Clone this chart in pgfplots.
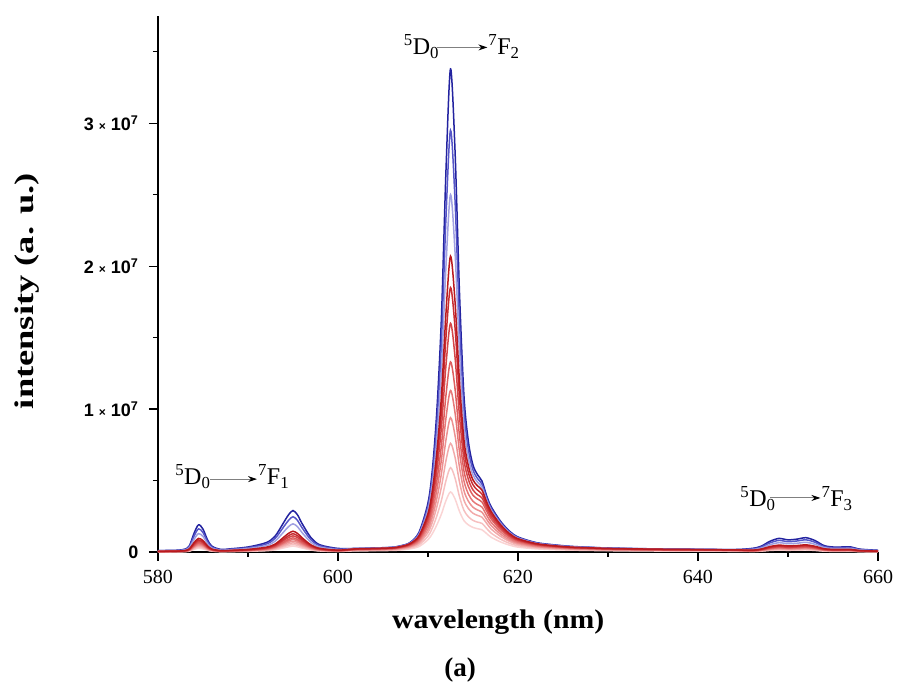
\documentclass[border=0pt]{standalone}
\usepackage{pgfplots}
\pgfplotsset{compat=1.18}
\usepackage{pgfplotstable}
\usepackage{fontspec}
\setmainfont{Liberation Serif}
\newfontfamily\arialfont{Liberation Sans}
\usetikzlibrary{arrows.meta}
\definecolor{k1}{RGB}{35,35,160}
\definecolor{k2}{RGB}{85,85,200}
\definecolor{k3}{RGB}{160,160,225}
\definecolor{k4}{RGB}{185,25,30}
\definecolor{k5}{RGB}{200,45,50}
\definecolor{k6}{RGB}{212,70,72}
\definecolor{k7}{RGB}{222,95,95}
\definecolor{k8}{RGB}{230,120,120}
\definecolor{k9}{RGB}{236,145,145}
\definecolor{k10}{RGB}{242,170,170}
\definecolor{k11}{RGB}{246,192,192}
\definecolor{k12}{RGB}{250,212,212}
% intensities in units of 10^7
\pgfplotstableread{
x c1 c2 c3 c4 c5 c6 c7 c8 c9 c10 c11 c12
580 0.010 0.009 0.007 0.005 0.004 0.004 0.003 0.003 0.003 0.002 0.002 0.001
582 0.012 0.010 0.008 0.006 0.005 0.005 0.004 0.004 0.003 0.003 0.002 0.002
583 0.020 0.017 0.014 0.010 0.009 0.008 0.007 0.006 0.005 0.004 0.004 0.003
583.5 0.045 0.038 0.031 0.023 0.020 0.018 0.015 0.014 0.012 0.010 0.008 0.006
584 0.130 0.111 0.088 0.065 0.057 0.051 0.044 0.039 0.034 0.029 0.023 0.018
584.5 0.190 0.162 0.129 0.095 0.084 0.074 0.065 0.057 0.049 0.042 0.034 0.027
585 0.160 0.136 0.109 0.080 0.070 0.062 0.054 0.048 0.042 0.035 0.029 0.022
585.5 0.085 0.072 0.058 0.043 0.037 0.033 0.029 0.026 0.022 0.019 0.015 0.012
586 0.040 0.034 0.027 0.020 0.018 0.016 0.014 0.012 0.010 0.009 0.007 0.006
587 0.018 0.015 0.012 0.009 0.008 0.007 0.006 0.005 0.005 0.004 0.003 0.003
588 0.022 0.019 0.015 0.011 0.010 0.009 0.007 0.007 0.006 0.005 0.004 0.003
590 0.035 0.030 0.024 0.018 0.015 0.014 0.012 0.011 0.009 0.008 0.006 0.005
592 0.065 0.055 0.044 0.033 0.029 0.025 0.022 0.020 0.017 0.014 0.012 0.009
593 0.110 0.094 0.075 0.055 0.048 0.043 0.037 0.033 0.029 0.024 0.020 0.015
594 0.210 0.179 0.143 0.105 0.092 0.082 0.071 0.063 0.055 0.046 0.038 0.029
594.5 0.260 0.221 0.177 0.130 0.114 0.101 0.088 0.078 0.068 0.057 0.047 0.036
595 0.290 0.247 0.197 0.145 0.128 0.113 0.099 0.087 0.075 0.064 0.052 0.041
595.5 0.260 0.221 0.177 0.130 0.114 0.101 0.088 0.078 0.068 0.057 0.047 0.036
596 0.200 0.170 0.136 0.100 0.088 0.078 0.068 0.060 0.052 0.044 0.036 0.028
597 0.100 0.085 0.068 0.050 0.044 0.039 0.034 0.030 0.026 0.022 0.018 0.014
598 0.050 0.043 0.034 0.025 0.022 0.020 0.017 0.015 0.013 0.011 0.009 0.007
600 0.025 0.021 0.017 0.013 0.011 0.010 0.009 0.008 0.007 0.006 0.005 0.004
602 0.025 0.024 0.023 0.022 0.021 0.019 0.018 0.016 0.014 0.013 0.010 0.008
604 0.028 0.027 0.026 0.025 0.023 0.022 0.020 0.018 0.016 0.014 0.012 0.009
606 0.033 0.032 0.031 0.029 0.028 0.026 0.024 0.022 0.019 0.017 0.014 0.011
607 0.044 0.042 0.041 0.039 0.037 0.034 0.032 0.029 0.026 0.022 0.018 0.014
608 0.066 0.064 0.061 0.059 0.055 0.052 0.048 0.043 0.038 0.034 0.028 0.022
609 0.138 0.130 0.122 0.114 0.106 0.098 0.089 0.080 0.070 0.061 0.050 0.038
610 0.344 0.320 0.294 0.269 0.249 0.228 0.205 0.182 0.159 0.137 0.111 0.086
610.5 0.585 0.536 0.485 0.436 0.401 0.363 0.324 0.285 0.248 0.211 0.170 0.130
611 1.006 0.908 0.806 0.708 0.646 0.578 0.506 0.442 0.380 0.320 0.256 0.192
611.5 1.655 1.472 1.281 1.098 0.993 0.877 0.752 0.650 0.552 0.458 0.363 0.267
612 2.673 2.345 2.003 1.675 1.503 1.308 1.098 0.938 0.785 0.640 0.500 0.360
612.5 3.380 2.950 2.500 2.070 1.850 1.600 1.330 1.130 0.940 0.760 0.590 0.420
613 2.814 2.466 2.102 1.754 1.572 1.366 1.144 0.976 0.816 0.664 0.518 0.372
613.5 1.813 1.608 1.396 1.191 1.077 0.948 0.811 0.700 0.593 0.490 0.387 0.284
614 1.089 0.988 0.883 0.782 0.715 0.643 0.566 0.496 0.428 0.362 0.291 0.219
614.5 0.767 0.711 0.653 0.598 0.553 0.505 0.456 0.404 0.354 0.303 0.246 0.189
615 0.608 0.574 0.539 0.504 0.470 0.434 0.397 0.355 0.313 0.271 0.221 0.172
615.5 0.541 0.514 0.489 0.463 0.433 0.401 0.371 0.332 0.294 0.256 0.209 0.163
616 0.496 0.475 0.454 0.433 0.405 0.378 0.349 0.314 0.278 0.243 0.200 0.155
616.5 0.396 0.382 0.367 0.353 0.331 0.310 0.288 0.259 0.230 0.202 0.166 0.130
617 0.319 0.307 0.296 0.284 0.267 0.249 0.232 0.209 0.186 0.162 0.133 0.104
618 0.220 0.212 0.204 0.196 0.184 0.172 0.160 0.144 0.128 0.112 0.092 0.072
619 0.149 0.143 0.138 0.132 0.124 0.116 0.108 0.097 0.086 0.076 0.062 0.049
620 0.105 0.101 0.097 0.093 0.087 0.082 0.076 0.068 0.061 0.053 0.044 0.034
622 0.066 0.064 0.061 0.059 0.055 0.052 0.048 0.043 0.038 0.034 0.028 0.022
624 0.050 0.048 0.046 0.044 0.041 0.039 0.036 0.032 0.029 0.025 0.021 0.016
626 0.039 0.037 0.036 0.034 0.032 0.030 0.028 0.025 0.022 0.020 0.016 0.013
628 0.033 0.032 0.031 0.029 0.028 0.026 0.024 0.022 0.019 0.017 0.014 0.011
630 0.028 0.027 0.026 0.025 0.023 0.022 0.020 0.018 0.016 0.014 0.012 0.009
635 0.022 0.021 0.020 0.020 0.018 0.017 0.016 0.014 0.013 0.011 0.009 0.007
640 0.019 0.019 0.018 0.017 0.016 0.015 0.014 0.013 0.011 0.010 0.008 0.006
644 0.017 0.016 0.015 0.015 0.014 0.013 0.012 0.011 0.010 0.008 0.007 0.005
646 0.025 0.021 0.017 0.013 0.011 0.010 0.009 0.008 0.007 0.006 0.005 0.004
647 0.040 0.034 0.027 0.020 0.018 0.016 0.014 0.012 0.010 0.009 0.007 0.006
648 0.075 0.064 0.051 0.038 0.033 0.029 0.026 0.023 0.020 0.017 0.014 0.011
649 0.095 0.081 0.065 0.048 0.042 0.037 0.032 0.029 0.025 0.021 0.017 0.013
650 0.085 0.072 0.058 0.043 0.037 0.033 0.029 0.026 0.022 0.019 0.015 0.012
651 0.090 0.077 0.061 0.045 0.040 0.035 0.031 0.027 0.023 0.020 0.016 0.013
652 0.100 0.085 0.068 0.050 0.044 0.039 0.034 0.030 0.026 0.022 0.018 0.014
653 0.080 0.068 0.054 0.040 0.035 0.031 0.027 0.024 0.021 0.018 0.014 0.011
654 0.045 0.038 0.031 0.023 0.020 0.018 0.015 0.014 0.012 0.010 0.008 0.006
655 0.035 0.030 0.024 0.018 0.015 0.014 0.012 0.011 0.009 0.008 0.006 0.005
656 0.035 0.030 0.024 0.018 0.015 0.014 0.012 0.011 0.009 0.008 0.006 0.005
657 0.035 0.030 0.024 0.018 0.015 0.014 0.012 0.011 0.009 0.008 0.006 0.005
658 0.020 0.017 0.014 0.010 0.009 0.008 0.007 0.006 0.005 0.004 0.004 0.003
660 0.012 0.010 0.008 0.006 0.005 0.005 0.004 0.004 0.003 0.003 0.002 0.002
}\spectra
\newcommand{\yt}[1]{#1\hspace{5pt}{\fontsize{12}{12}\selectfont×}\hspace{5pt}10\textsuperscript{7}}
\begin{document}
\begin{tikzpicture}
\begin{axis}[
  at={(0pt,0pt)}, anchor=south west,
  width=720pt, height=536pt, scale only axis,
  xmin=580, xmax=660, ymin=0, ymax=3.75,
  axis x line*=bottom, axis y line*=left,
  axis line style={-, line width=1.6pt, black},
  tick align=outside, major tick length=9pt, minor tick length=5pt,
  every tick/.style={black, line width=1.2pt},
  xtick={580,600,620,640,660},
  xticklabels={580,600,620,640,660},
  minor xtick={590,610,630,650},
  ytick={0,1,2,3},
  yticklabels={0,\yt{1},\yt{2},\yt{3}},
  minor ytick={0.5,1.5,2.5,3.5},
  xticklabel style={font=\fontsize{20}{20}\selectfont, yshift=-6pt},
  yticklabel style={font=\arialfont\bfseries\fontsize{18}{18}\selectfont, xshift=-7pt},
  clip=false,
  every axis plot/.append style={line width=1.5pt, smooth, tension=0.5},
]
\addplot[k1] table[x=x,y=c1]{\spectra};
\addplot[k2] table[x=x,y=c2]{\spectra};
\addplot[k3] table[x=x,y=c3]{\spectra};
\addplot[k12] table[x=x,y=c12]{\spectra};
\addplot[k11] table[x=x,y=c11]{\spectra};
\addplot[k10] table[x=x,y=c10]{\spectra};
\addplot[k9] table[x=x,y=c9]{\spectra};
\addplot[k8] table[x=x,y=c8]{\spectra};
\addplot[k7] table[x=x,y=c7]{\spectra};
\addplot[k6] table[x=x,y=c6]{\spectra};
\addplot[k5] table[x=x,y=c5]{\spectra};
\addplot[k4] table[x=x,y=c4]{\spectra};
% annotations
\node[anchor=base west, inner sep=0pt, font=\fontsize{24}{24}\selectfont] at (axis cs:581.9,0.47) {\textsuperscript{5}D\textsubscript{0}};
\draw[gray, line width=1pt, -{Stealth[length=9pt,width=6pt,black]}] (axis cs:585.8,0.51) -- (axis cs:591.0,0.51);
\node[anchor=base west, inner sep=0pt, font=\fontsize{24}{24}\selectfont] at (axis cs:591.1,0.47) {\textsuperscript{7}F\textsubscript{1}};
\node[anchor=base west, inner sep=0pt, font=\fontsize{24}{24}\selectfont] at (axis cs:607.3,3.48) {\textsuperscript{5}D\textsubscript{0}};
\draw[gray, line width=1pt, -{Stealth[length=9pt,width=6pt,black]}] (axis cs:611.0,3.53) -- (axis cs:616.6,3.53);
\node[anchor=base west, inner sep=0pt, font=\fontsize{24}{24}\selectfont] at (axis cs:616.7,3.48) {\textsuperscript{7}F\textsubscript{2}};
\node[anchor=base west, inner sep=0pt, font=\fontsize{24}{24}\selectfont] at (axis cs:644.7,0.315) {\textsuperscript{5}D\textsubscript{0}};
\draw[gray, line width=1pt, -{Stealth[length=9pt,width=6pt,black]}] (axis cs:648.0,0.378) -- (axis cs:653.6,0.378);
\node[anchor=base west, inner sep=0pt, font=\fontsize{24}{24}\selectfont] at (axis cs:653.7,0.315) {\textsuperscript{7}F\textsubscript{3}};
% labels
\node[anchor=base, font=\bfseries\fontsize{27}{27}\selectfont] at (axis cs:617.8,-0.538) {\scalebox{1.1}[1]{wavelength (nm)}};
\node[anchor=base, font=\bfseries\fontsize{27}{27}\selectfont] at (axis cs:613.56,-0.874) {(a)};
\node[rotate=90, font=\bfseries\fontsize{27}{27}\selectfont] at (axis cs:565.44,1.825) {\scalebox{1.35}[1]{intensity (a. u.)}};
\end{axis}
\pgfresetboundingbox
\path[use as bounding box] (-158pt,-132pt) rectangle (739pt,552pt);
\end{tikzpicture}
\end{document}
